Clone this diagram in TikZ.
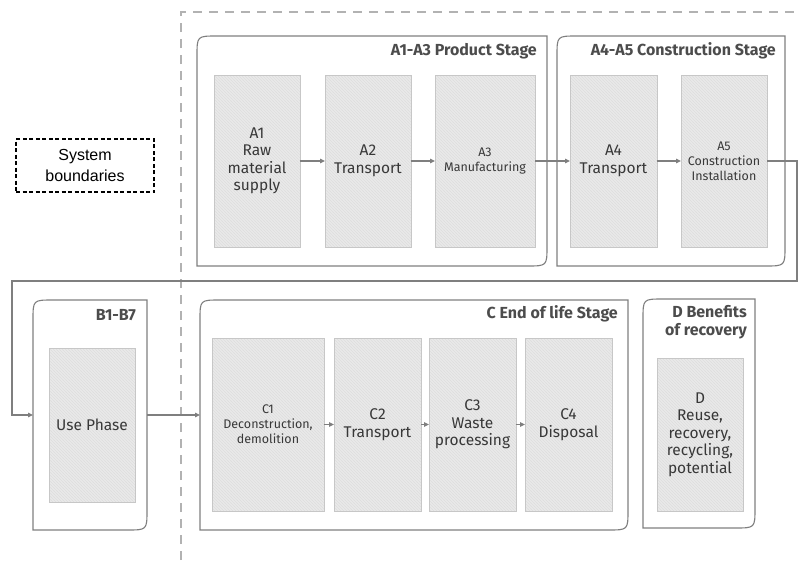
\documentclass[tikz,border=0pt]{standalone}
\usepackage{fontspec}
\setmainfont{Fira Sans}
\newfontfamily\legendfont{Liberation Sans}
\usetikzlibrary{arrows.meta,patterns,calc}

\definecolor{linegray}{HTML}{7F7F7F}
\definecolor{boxfill}{HTML}{E9E9E9}

% outline of a stage: rounded top left and bottom right corners
\newcommand{\stageframe}[1]{%
  \draw[stage] (#1.south west) -- ($(#1.north west)+(0,20)$)
    .. controls (#1.north west) .. ($(#1.north west)+(20,0)$)
    -- (#1.north east) -- ($(#1.south east)-(0,20)$)
    .. controls (#1.south east) .. ($(#1.south east)-(20,0)$) -- cycle;}

\begin{document}
\begin{tikzpicture}[x=1pt,y=-1pt,
  stage/.style={draw=linegray, line width=1.1pt},
  frame/.style={rectangle, inner sep=0pt, outer sep=0pt},
  module/.style={rectangle, draw=black!22, line width=0.8pt, inner sep=1pt, outer sep=0pt,
    preaction={fill=boxfill}, pattern=north west lines, pattern color=black!13,
    text=black!78, align=center, font=\fontsize{15.5}{17.5}\selectfont},
  small/.style={font=\fontsize{12.5}{15}\selectfont},
  heading/.style={anchor=east, text=black!70, inner sep=0pt, align=right,
    font=\bfseries\fontsize{16}{18.5}\selectfont},
  flow/.style={draw=linegray, line width=1.1pt, -{Triangle[length=5pt,width=4.5pt]}},
  sysline/.style={draw=black!30, line width=1.3pt, dash pattern=on 9pt off 7pt},
  legend/.style={draw=black, line width=1.1pt, dash pattern=on 4pt off 2.5pt,
    minimum width=138pt, minimum height=53pt, align=center,
    font=\legendfont\fontsize{16}{21}\selectfont}
]
\useasboundingbox (0,0) rectangle (800,560);

% system boundary
\coordinate (sysTL) at (181,12);
\draw[sysline] (181,560) -- (sysTL) -- (800,12);
\node[legend] (legend) at (85,165.5) {System\\boundaries};

% stage frames
\node[frame, minimum width=350pt, minimum height=230pt] (prod) at (372,151) {};
\node[frame, minimum width=228pt, minimum height=230pt] (cons) at (671,151) {};
\node[frame, minimum width=114pt, minimum height=230pt] (use) at (90,415) {};
\node[frame, minimum width=428pt, minimum height=230pt] (eol) at (414,415) {};
\node[frame, minimum width=112pt, minimum height=229pt] (ben) at (699,413.5) {};
\foreach \s in {prod,cons,use,eol,ben} {\stageframe{\s}}

\node[heading] at ($(prod.north east)+(-10,15)$) {A1-A3 Product Stage};
\node[heading] at ($(cons.north east)+(-9,15)$) {A4-A5 Construction Stage};
\node[heading] at ($(use.north east)+(-11,15)$) {B1-B7};
\node[heading] at ($(eol.north east)+(-10,14)$) {C End of life Stage};
\node[heading, anchor=north east] at ($(ben.north east)+(-8,6)$) {D Benefits\\of recovery};

% modules A1-A5
\node[module, minimum width=86pt, minimum height=172pt] (a1) at (257,161) {A1\\Raw\\material\\supply};
\node[module, minimum width=86pt, minimum height=172pt] (a2) at (368,161) {A2\\Transport};
\node[module, small, minimum width=100pt, minimum height=172pt] (a3) at (485,161) {A3\\Manufacturing};
\node[module, minimum width=87pt, minimum height=172pt] (a4) at (613.5,161) {A4\\Transport};
\node[module, small, minimum width=86pt, minimum height=172pt] (a5) at (724,161) {A5\\Construction\\Installation};

% modules B, C and D
\node[module, minimum width=86pt, minimum height=154pt] (b) at (92,425) {Use Phase};
\node[module, small, minimum width=112pt, minimum height=173pt] (c1) at (268,424.5) {C1\\Deconstruction,\\demolition};
\node[module, minimum width=87pt, minimum height=173pt] (c2) at (377.5,424.5) {C2\\Transport};
\node[module, minimum width=87pt, minimum height=173pt] (c3) at (472.5,424.5) {C3\\Waste\\processing};
\node[module, minimum width=87pt, minimum height=173pt] (c4) at (568.5,424.5) {C4\\Disposal};
\node[module, minimum width=86pt, minimum height=153pt] (d) at (700,434.5) {D\\Reuse,\\recovery,\\recycling,\\potential};

% flows
\draw[flow] (a1) -- (a2);
\draw[flow] (a2) -- (a3);
\draw[flow] (a3) -- (a4);
\draw[flow] (a4) -- (a5);
\coordinate (turnR) at (797,281);
\coordinate (turnL) at (12,281);
\draw[flow] (a5.east) -| (turnR) -- (turnL) |- (use.west);
\draw[flow] (use.east) -- (eol.west);
\draw[flow] (c1) -- (c2);
\draw[flow] (c2) -- (c3);
\draw[flow] (c3) -- (c4);
\end{tikzpicture}
\end{document}
